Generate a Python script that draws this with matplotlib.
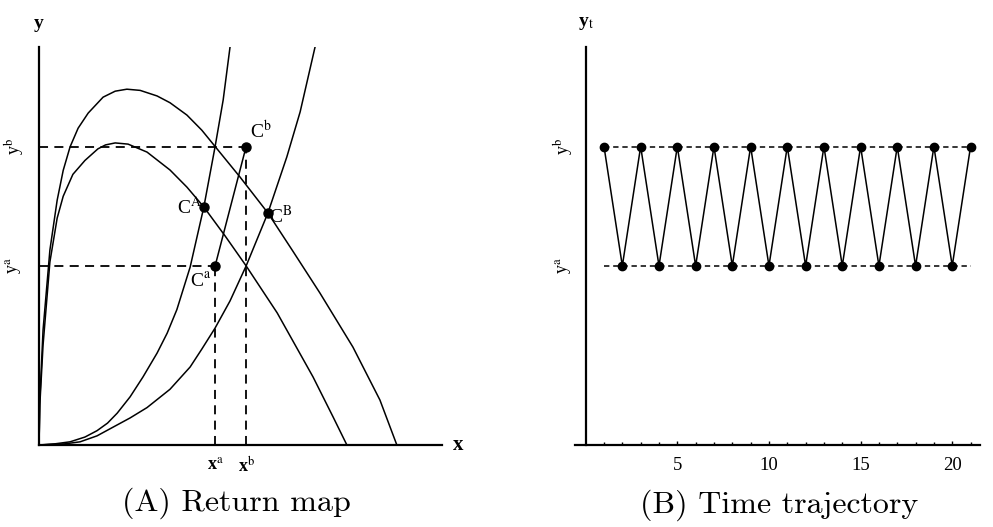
import matplotlib
matplotlib.use('Agg')
import matplotlib.pyplot as plt

plt.rcParams['font.family'] = ['Liberation Serif', 'DejaVu Serif']
plt.rcParams['mathtext.fontset'] = 'stix'
plt.rcParams['lines.solid_joinstyle'] = 'round'

# levels of the two-cycle
ya = 0.45
yb = 0.75
xa = 0.437
xb = 0.514

# return map: two hump shaped maps (upper / lower)
hump1X = [0, 0.002, 0.010, 0.027, 0.045, 0.060, 0.077, 0.097, 0.122, 0.159, 0.189, 0.218,
	0.251, 0.293, 0.325, 0.367, 0.404, 0.437, 0.499, 0.568, 0.630, 0.697, 0.779, 0.846, 0.888]
hump1Y = [0, 0.113, 0.289, 0.490, 0.615, 0.690, 0.749, 0.796, 0.834, 0.874, 0.889, 0.894,
	0.891, 0.877, 0.860, 0.829, 0.791, 0.750, 0.673, 0.583, 0.487, 0.382, 0.246, 0.113, 0.0]

hump2X = [0, 0.002, 0.010, 0.027, 0.045, 0.060, 0.084, 0.114, 0.146, 0.165, 0.189, 0.221,
	0.268, 0.325, 0.367, 0.409, 0.462, 0.514, 0.591, 0.680, 0.730, 0.764]
hump2Y = [0, 0.101, 0.251, 0.460, 0.570, 0.625, 0.680, 0.715, 0.744, 0.754, 0.759, 0.756,
	0.736, 0.691, 0.648, 0.598, 0.525, 0.450, 0.332, 0.171, 0.070, 0.0]

# increasing branches (steep / flat)
steepX = [0, 0.040, 0.077, 0.114, 0.144, 0.170, 0.194, 0.226, 0.258, 0.293, 0.318, 0.342,
	0.375, 0.409, 0.437, 0.457, 0.474]
steepY = [0, 0.003, 0.008, 0.020, 0.036, 0.055, 0.080, 0.121, 0.171, 0.231, 0.281, 0.340,
	0.447, 0.598, 0.750, 0.867, 1.0]

flatX = [0, 0.065, 0.102, 0.144, 0.184, 0.226, 0.268, 0.325, 0.375, 0.404, 0.437, 0.474,
	0.514, 0.568, 0.615, 0.648, 0.685]
flatY = [0, 0.003, 0.008, 0.023, 0.045, 0.068, 0.094, 0.140, 0.196, 0.241, 0.294, 0.362,
	0.450, 0.583, 0.724, 0.837, 1.0]

# marked points
cA = (0.409, 0.598)
cB = (0.568, 0.583)
ca = (xa, ya)
cb = (xb, yb)

# time trajectory
tSteps = list(range(1, 22))
yTraj = [0.75, 0.45, 0.75, 0.45, 0.75, 0.45, 0.75, 0.45, 0.75, 0.45, 0.75,
	0.45, 0.75, 0.45, 0.75, 0.45, 0.75, 0.45, 0.75, 0.45, 0.75]
tTicks = [5, 10, 15, 20]

fig = plt.figure(figsize=(9.93, 5.27), dpi=100)
axA = fig.add_axes([0.0393, 0.1556, 0.4058, 0.7552])
axB = fig.add_axes([0.5791, 0.1556, 0.4079, 0.7552])

lw = 1.1
for ax in (axA, axB):
	ax.spines['top'].set_visible(False)
	ax.spines['right'].set_visible(False)
	ax.spines['left'].set_linewidth(1.6)
	ax.spines['bottom'].set_linewidth(1.6)
	ax.set_ylim(0, 1)
	ax.set_yticks([])

# ---- (A) return map
axA.set_xlim(0, 1)
axA.plot(hump1X, hump1Y, color='k', lw=lw)
axA.plot(hump2X, hump2Y, color='k', lw=lw)
axA.plot(steepX, steepY, color='k', lw=lw)
axA.plot(flatX, flatY, color='k', lw=lw)

dash = (0, (5, 3.5))
axA.plot([0, xb], [yb, yb], color='k', lw=1.3, ls=dash)
axA.plot([0, xa], [ya, ya], color='k', lw=1.3, ls=dash)
axA.plot([xa, xa], [0, ya], color='k', lw=1.3, ls=dash)
axA.plot([xb, xb], [0, yb], color='k', lw=1.3, ls=dash)
axA.plot([ca[0], cb[0]], [ca[1], cb[1]], color='k', lw=lw)

for p in (cA, cB, ca, cb):
	axA.plot(p[0], p[1], 'o', color='k', ms=6.5)

axA.annotate('C$^{\\rm b}$', cb, xytext=(3, 3), textcoords='offset points',
	ha='left', va='bottom', fontsize=14)
axA.annotate('C$^{\\rm A}$', cA, xytext=(-1, 0), textcoords='offset points',
	ha='right', va='center', fontsize=14)
axA.annotate('C$^{\\rm B}$', cB, xytext=(1, -2), textcoords='offset points',
	ha='left', va='center', fontsize=14)
axA.annotate('C$^{\\rm a}$', ca, xytext=(-3, -4), textcoords='offset points',
	ha='right', va='top', fontsize=14)

axA.set_xticks([xa, xb], ['x$^{\\rm a}$', 'x$^{\\rm b}$'], fontsize=13, fontweight='bold')
axA.tick_params(axis='x', length=0, pad=8)

axA.annotate('x', (1, 0), xycoords='axes fraction', xytext=(12, 0), textcoords='offset points',
	ha='center', va='center', fontsize=15, fontweight='bold')
axA.annotate('y', (0, 1), xycoords='axes fraction', xytext=(0, 17), textcoords='offset points',
	ha='center', va='center', fontsize=14, fontweight='bold')
for lev, name in ((yb, 'y$^{\\rm b}$'), (ya, 'y$^{\\rm a}$')):
	axA.annotate(name, (0, lev), xycoords=('axes fraction', 'data'), xytext=(-18, 0),
		textcoords='offset points', ha='center', va='center', rotation=90, fontsize=13)

fig.text(236 / 993, 1 - 503 / 527, '(A) Return map', family='cmr10', fontsize=23,
	ha='center', va='center')

# ---- (B) time trajectory
axB.set_xlim(-0.58, 21.52)
axB.spines['left'].set_position(('data', 0))
axB.plot([tSteps[0], tSteps[-1]], [yb, yb], color='k', lw=1.1, ls=(0, (3.5, 2.5)))
axB.plot([tSteps[0], tSteps[-1]], [ya, ya], color='k', lw=1.1, ls=(0, (3.5, 2.5)))
axB.plot(tSteps, yTraj, color='k', lw=lw, marker='o', ms=6)

axB.set_xticks(tTicks, [str(t) for t in tTicks], fontsize=13.5)
axB.set_xticks(tSteps, minor=True)
axB.tick_params(axis='x', which='major', direction='in', length=3, width=1, pad=9)
axB.tick_params(axis='x', which='minor', direction='in', length=2, width=1)

axB.annotate('y$_{\\rm t}$', (0, 1), xycoords=('data', 'axes fraction'), xytext=(0, 17),
	textcoords='offset points', ha='center', va='center', fontsize=14, fontweight='bold')
for lev, name in ((yb, 'y$^{\\rm b}$'), (ya, 'y$^{\\rm a}$')):
	axB.annotate(name, (0, lev), xytext=(-16, 0), textcoords='offset points',
		ha='center', va='center', rotation=90, fontsize=13)

fig.text(779 / 993, 1 - 505 / 527, '(B) Time trajectory', family='cmr10', fontsize=23,
	ha='center', va='center')

fig.savefig('out.png', dpi=100)
